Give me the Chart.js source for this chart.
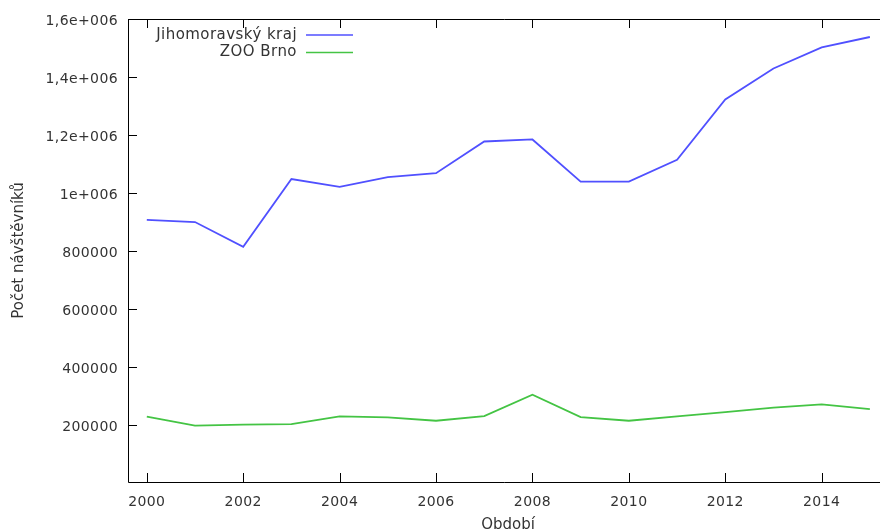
<!DOCTYPE html>
<html><head><meta charset="utf-8">
<script src="https://cdn.jsdelivr.net/npm/chart.js@4/dist/chart.umd.min.js"></script>
<style>html,body{margin:0;padding:0;background:#fff;overflow:hidden}#wrap{width:880px;height:531px;position:relative}</style>
</head><body><div id="wrap"><canvas id="c" width="880" height="531"></canvas></div>
<script>
const years = [2000,2001,2002,2003,2004,2005,2006,2007,2008,2009,2010,2011,2012,2013,2014,2015];
const jihomoravskyKraj = [908000,900500,815000,1048500,1022000,1055000,1069000,1178000,1185000,1040000,1040000,1115000,1323000,1429500,1502000,1538000];
const zooBrno = [230000,199000,202500,204500,231000,227500,216000,232000,306000,228500,216000,231000,246000,261000,272500,256000];
const seriesNames = ['Jihomoravský kraj','ZOO Brno'];
const xTickValues = [2000,2002,2004,2006,2008,2010,2012,2014];
const yTickValues = [200000,400000,600000,800000,1000000,1200000,1400000,1600000];
const yTickLabels = ['200000','400000','600000','800000','1e+006','1,2e+006','1,4e+006','1,6e+006'];
const xTitle = 'Období';
const yTitle = 'Počet návštěvníků';

const FONT = "'DejaVu Sans', Verdana, sans-serif";
const TXT = '#333';

const toPts = arr => years.map((y,i)=>({x:y,y:arr[i]}));

const framePlugin = {
  id:'frame',
  beforeDraw(chart){ chart.ctx.letterSpacing = '0.4px'; },
  afterDraw(chart){
    const {ctx, chartArea:a, scales:{x,y}} = chart;
    ctx.save();
    ctx.strokeStyle = '#000';
    ctx.lineWidth = 1;
    ctx.beginPath();
    ctx.moveTo(a.left+0.5, a.bottom+0.5); ctx.lineTo(a.left+0.5, a.top+0.5); ctx.lineTo(a.right, a.top+0.5);
    ctx.moveTo(a.left+0.5, a.bottom+0.5); ctx.lineTo(a.right, a.bottom+0.5);
    xTickValues.forEach(v=>{
      const px = Math.round(x.getPixelForValue(v))+0.5;
      ctx.moveTo(px, a.bottom); ctx.lineTo(px, a.bottom-9);
      ctx.moveTo(px, a.top); ctx.lineTo(px, a.top+9);
    });
    yTickValues.forEach(v=>{
      const py = Math.round(y.getPixelForValue(v))+0.5;
      ctx.moveTo(a.left, py); ctx.lineTo(a.left+9, py);
    });
    ctx.stroke();
    // titles
    ctx.letterSpacing = '0px';
    ctx.fillStyle = TXT;
    ctx.font = '15px ' + FONT;
    ctx.textAlign = 'center';
    ctx.textBaseline = 'middle';
    ctx.fillText(xTitle, (a.left + 888)/2, 525);
    ctx.save();
    ctx.translate(19, (a.top+a.bottom)/2);
    ctx.rotate(-Math.PI/2);
    ctx.fillText(yTitle, 0, 0);
    ctx.restore();
    // legend
    ctx.letterSpacing = '0.45px';
    chart.data.datasets.forEach((ds,i)=>{
      const ly = a.top + 16 + i*17.5;
      ctx.textAlign = 'right';
      ctx.fillStyle = TXT;
      ctx.fillText(ds.label, a.left + 169, ly);
      ctx.strokeStyle = ds.borderColor;
      ctx.lineWidth = 1.5;
      ctx.beginPath();
      ctx.moveTo(a.left+178, ly); ctx.lineTo(a.left+225, ly);
      ctx.stroke();
    });
    ctx.restore();
  }
};

new Chart(document.getElementById('c'), {
  type:'line',
  data:{datasets:[
    {label:seriesNames[0], data:toPts(jihomoravskyKraj), borderColor:'#5050ff', borderWidth:1.8, pointRadius:0, tension:0, fill:false},
    {label:seriesNames[1], data:toPts(zooBrno), borderColor:'#44c444', borderWidth:1.8, pointRadius:0, tension:0, fill:false}
  ]},
  options:{
    responsive:false, animation:false, devicePixelRatio:1,
    layout:{padding:{top:19,right:0,left:0,bottom:0}},
    plugins:{legend:{display:false}, tooltip:{enabled:false}},
    scales:{
      x:{type:'linear', min:1999.61, max:2015.21,
        afterBuildTicks:s=>{s.ticks = xTickValues.map(v=>({value:v}));},
        afterFit:s=>{s.height = 49;},
        grid:{display:false, drawTicks:false}, border:{display:false},
        ticks:{autoSkip:false, maxRotation:0, padding:12, color:TXT, font:{family:FONT, size:14}, callback:v=>String(v)}
      },
      y:{type:'linear', min:5000, max:1600000,
        afterBuildTicks:s=>{s.ticks = yTickValues.map(v=>({value:v}));},
        afterFit:s=>{s.width = 128;},
        grid:{display:false, drawTicks:false}, border:{display:false},
        ticks:{autoSkip:false, padding:10, labelOffset:2, color:TXT, font:{family:FONT, size:14}, callback:v=>{const i=yTickValues.indexOf(v); return i>=0?yTickLabels[i]:'';}}
      }
    }
  },
  plugins:[framePlugin]
});
</script></body></html>
